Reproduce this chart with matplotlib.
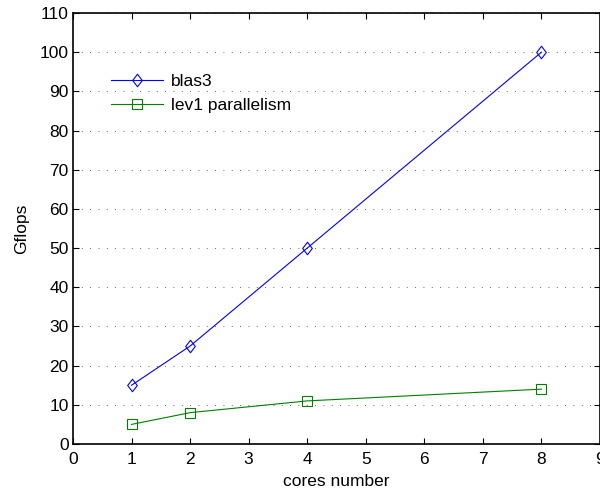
import matplotlib.pyplot as plt
from matplotlib.path import Path

plt.rcParams['font.family'] = ['Liberation Sans', 'DejaVu Sans']

# --- Daten ---
cores = [1, 2, 4, 8]
blas3 = [15, 25, 50, 100]
lev1 = [5, 8, 11, 14]

x_ticks = list(range(0, 10))
y_ticks = list(range(0, 111, 10))

# MATLAB-artige Raute (etwas schmaler als hoch)
diamond = Path([(0, 1), (0.77, 0), (0, -1), (-0.77, 0), (0, 1)],
               [Path.MOVETO, Path.LINETO, Path.LINETO, Path.LINETO, Path.CLOSEPOLY])

fig = plt.figure(figsize=(6, 4.92), dpi=100)
ax = fig.add_axes([73 / 600, 48 / 492, 527 / 600, 431 / 492])

ax.plot(cores, blas3, color='#0000ff', linewidth=0.8, marker=diamond,
        markersize=9, markerfacecolor='none', markeredgewidth=0.8, label='blas3')
ax.plot(cores, lev1, color='#008000', linewidth=0.8, marker='s',
        markersize=7, markerfacecolor='none', markeredgewidth=0.8,
        label='lev1 parallelism')

ax.set_xlim(0, 9)
ax.set_ylim(0, 110)
ax.set_xticks(x_ticks)
ax.set_yticks(y_ticks)
ax.tick_params(direction='in', top=True, right=True, length=4, width=0.8,
               labelsize=12.5)
ax.tick_params(axis='x', pad=6)
ax.tick_params(axis='y', pad=3)
ax.yaxis.grid(True, linestyle=(0, (1, 9)), color='#333333', linewidth=0.6)
for s in ax.spines.values():
    s.set_linewidth(1.2)

ax.set_xlabel('cores number', fontsize=12.5, labelpad=5)
ax.set_ylabel('Gflops', fontsize=12.5, labelpad=8)

ax.legend(loc='upper left', bbox_to_anchor=(0.043, 0.895), frameon=False,
          fontsize=12.5, handlelength=3.0, handletextpad=0.45, labelspacing=0.5)

fig.savefig('out.png', dpi=100)
